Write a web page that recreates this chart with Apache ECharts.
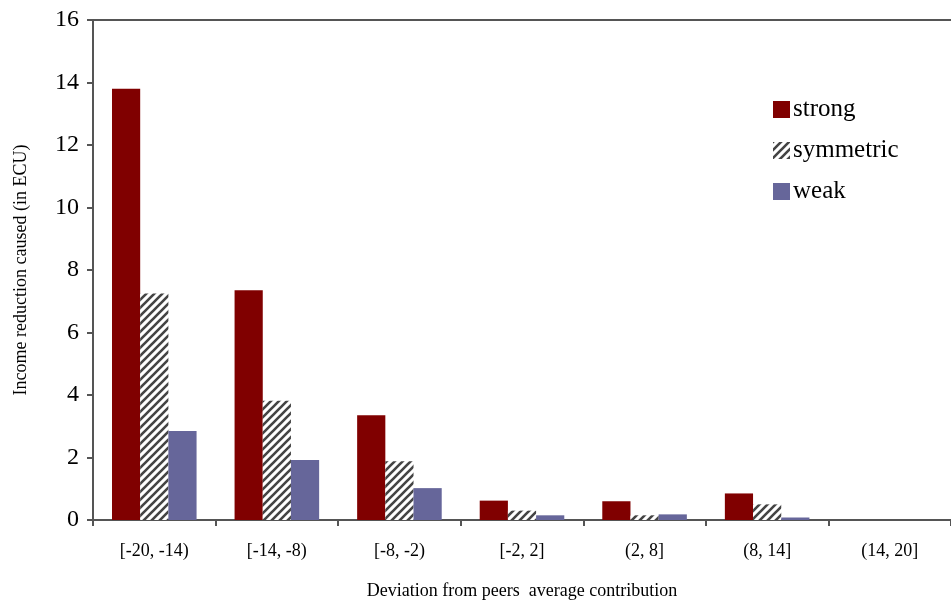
<!DOCTYPE html>
<html>
<head>
<meta charset="utf-8">
<script src="https://cdn.jsdelivr.net/npm/echarts@6/dist/echarts.min.js"></script>
<style>html,body{margin:0;padding:0;background:#fff}#chart{width:951px;height:607px}</style>
</head>
<body>
<div id="chart"></div>
<script>
var categories = ['[-20, -14)', '[-14, -8)', '[-8, -2)', '[-2, 2]', '(2, 8]', '(8, 14]', '(14, 20]'];
var strong = [13.8, 7.35, 3.35, 0.62, 0.6, 0.85, 0];
var symmetric = [7.25, 3.82, 1.88, 0.3, 0.15, 0.5, 0];
var weak = [2.85, 1.92, 1.02, 0.15, 0.18, 0.08, 0];
var yTicks = [0, 2, 4, 6, 8, 10, 12, 14, 16];

// hatch pattern for the symmetric series
var pc = document.createElement('canvas');
pc.width = 8; pc.height = 8;
var ctx = pc.getContext('2d');
ctx.fillStyle = '#ffffff';
ctx.fillRect(0, 0, 8, 8);
ctx.strokeStyle = '#444444';
ctx.lineWidth = 2.6;
ctx.beginPath();
ctx.moveTo(-2, 10); ctx.lineTo(10, -2);
ctx.moveTo(-6, 6); ctx.lineTo(6, -6);
ctx.moveTo(2, 14); ctx.lineTo(14, 2);
ctx.stroke();
var hatch = {image: pc, repeat: 'repeat'};

var font = 'Liberation Serif';
var chart = echarts.init(document.getElementById('chart'));
chart.setOption({
  animation: false,
  textStyle: {fontFamily: font, color: '#000'},
  grid: {left: 93, right: 0, top: 20, bottom: 87},
  legend: {
    orient: 'vertical', left: 768, top: 92, itemGap: 16,
    itemWidth: 17, itemHeight: 17, icon: 'rect',
    textStyle: {fontFamily: font, fontSize: 25, color: '#000', padding: [0, 0, 0, -2]},
    data: ['strong', 'symmetric', 'weak']
  },
  xAxis: {
    type: 'category', data: categories,
    name: 'Deviation from peers  average contribution',
    nameLocation: 'middle', nameGap: 62,
    nameTextStyle: {fontFamily: font, fontSize: 18, color: '#000'},
    axisLine: {lineStyle: {color: '#555', width: 2}},
    axisTick: {show: true, alignWithLabel: false, length: 6, lineStyle: {color: '#555', width: 2}},
    axisLabel: {fontFamily: font, fontSize: 18, color: '#000', margin: 22}
  },
  yAxis: {
    type: 'value', min: 0, max: 16, interval: 2,
    name: 'Income reduction caused (in ECU)',
    nameLocation: 'middle', nameGap: 63,
    nameTextStyle: {fontFamily: font, fontSize: 18, color: '#000'},
    axisLine: {show: true, lineStyle: {color: '#555', width: 2}},
    axisTick: {show: true, length: 6, lineStyle: {color: '#555', width: 2}},
    splitLine: {show: false},
    axisLabel: {fontFamily: font, fontSize: 24, color: '#000', margin: 14,
      formatter: function (v) { return yTicks.indexOf(v) >= 0 ? String(v) : ''; }}
  },
  graphic: [{type: 'line', shape: {x1: 93, y1: 20, x2: 951, y2: 20}, style: {stroke: '#555', lineWidth: 2}}],
  series: [
    {name: 'strong', type: 'bar', data: strong, itemStyle: {color: '#800000'}, barGap: '0%', barCategoryGap: '31%'},
    {name: 'symmetric', type: 'bar', data: symmetric, itemStyle: {color: hatch}},
    {name: 'weak', type: 'bar', data: weak, itemStyle: {color: '#66669a'}}
  ]
});
</script>
</body>
</html>
